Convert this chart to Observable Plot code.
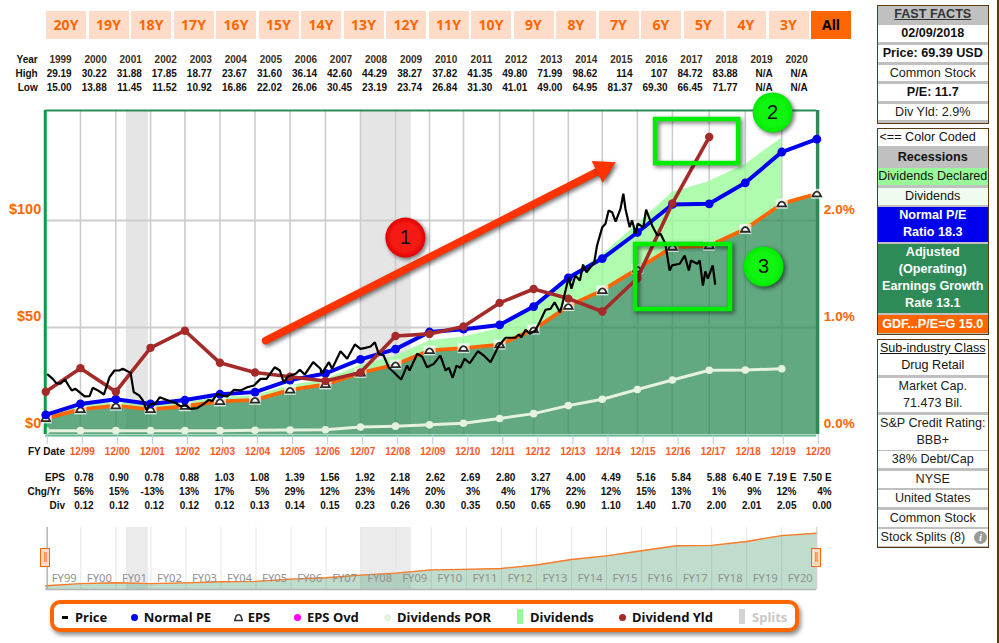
<!DOCTYPE html>
<html><head><meta charset="utf-8">
<script src="https://cdn.jsdelivr.net/npm/d3@7"></script>
<script src="https://cdn.jsdelivr.net/npm/@observablehq/plot@0.6"></script>
<style>
html,body{margin:0;padding:0;background:#fff;overflow:hidden;font-family:"Liberation Sans",Arial,sans-serif}
#page{position:relative;width:999px;height:643px;overflow:hidden}
#page>svg{position:absolute;left:0;background:transparent}
.abs{position:absolute;white-space:nowrap}
.btn{position:absolute;top:11px;width:40px;height:28px;line-height:27px;text-align:center;background:#ffdcc9;color:#ff6600;font:bold 14px/27px "Noto Sans",sans-serif}
.btn.on{background:#ff6600;color:#000}
.cell{position:absolute;font:bold 10px/12px "Liberation Sans",Arial,sans-serif;text-align:right;color:#111;width:50px}
.box{position:absolute;left:876.5px;width:110.5px;background:#c0c0c0;border:1.5px solid #5a3a10;box-sizing:content-box}
.row{position:absolute;left:0;right:0;text-align:center;font:12.6px/17px "Liberation Sans",Arial,sans-serif;color:#222;background:#fff;white-space:nowrap}
.row.b{font-weight:bold;font-size:12.6px}
#legend{position:absolute;left:50px;top:600px;width:741px;height:24px;border:4px solid #ff6600;border-radius:10px;background:#fff;box-shadow:2px 3px 4px rgba(0,0,0,.45)}
.lg{position:absolute;top:617px;transform:translateY(-50%);font:bold 13px/16px "Noto Sans",sans-serif;color:#111;white-space:nowrap}
.ldot{position:absolute;width:7px;height:7px;border-radius:50%;top:613.5px}
.handle{position:absolute;top:548px;width:8px;height:17px;background:#fddcc6;border:1.5px solid #ff6600;text-align:center;font:10px/16px "Liberation Sans";color:#ff6600;letter-spacing:-1px}
</style></head><body><div id="page"></div>
<script>
// ---- axis categories (tick index 0 = FY98)
const fyDates=["12/98","12/99","12/00","12/01","12/02","12/03","12/04","12/05","12/06","12/07","12/08","12/09","12/10","12/11","12/12","12/13","12/14","12/15","12/16","12/17","12/18","12/19","12/20"];
const fyShort=["FY99","FY00","FY01","FY02","FY03","FY04","FY05","FY06","FY07","FY08","FY09","FY10","FY11","FY12","FY13","FY14","FY15","FY16","FY17","FY18","FY19","FY20"];
const rangeButtons=["20Y","19Y","18Y","17Y","16Y","15Y","14Y","13Y","12Y","11Y","10Y","9Y","8Y","7Y","6Y","5Y","4Y","3Y","All"];
// ---- fiscal period ends on the chart's time axis (slightly irregular against the ticks)
const fyTime=[0,.99,2,2.99,3.97,4.97,5.97,6.97,7.98,8.98,9.98,10.95,11.92,12.95,13.92,14.91,15.88,16.88,17.88,18.93,19.96,21,22];
// ---- tables
const years=["1999","2000","2001","2002","2003","2004","2005","2006","2007","2008","2009","2010","2011","2012","2013","2014","2015","2016","2017","2018","2019","2020"];
const highs=["29.19","30.22","31.88","17.85","18.77","23.67","31.60","36.14","42.60","44.29","38.27","37.82","41.35","49.80","71.99","98.62","114","107","84.72","83.88","N/A","N/A"];
const lows=["15.00","13.88","11.45","11.52","10.92","16.86","22.02","26.06","30.45","23.19","23.74","26.84","31.30","41.01","49.00","64.95","81.37","69.30","66.45","71.77","N/A","N/A"];
const epsText=["0.78","0.90","0.78","0.88","1.03","1.08","1.39","1.56","1.92","2.18","2.62","2.69","2.80","3.27","4.00","4.49","5.16","5.84","5.88","6.40 E","7.19 E","7.50 E"];
const chgText=["56%","15%","-13%","13%","17%","5%","29%","12%","23%","14%","20%","3%","4%","17%","22%","12%","15%","13%","1%","9%","12%","4%"];
const divText=["0.12","0.12","0.12","0.12","0.12","0.13","0.14","0.15","0.23","0.26","0.30","0.35","0.50","0.65","0.90","1.10","1.40","1.70","2.00","2.01","2.05","0.00"];
// ---- chart series, in chart dollars
const earningsLine=[7.5,11.7,13.5,11.7,13.2,15.45,16.2,20.85,23.4,28.8,32.7,39.3,40.35,42,49.05,60,67.35,77.4,87.6,88.2,96,107.85,112.5];
const normalPE=[9.2,14.3,16.5,14.3,16.1,18.8,19.8,25.4,28.5,35.1,39.9,47.9,49.2,51.2,59.8,73.2,82.2,94.4,107.5,107.8,117.6,132,138];
const dividendsPOR=[1.8,1.8,1.8,1.8,1.8,1.8,1.95,2.1,2.25,3.45,3.9,4.5,5.25,7.5,9.75,13.5,16.5,21,25.5,30,30.15,30.75];
const dividendsTop=[9.3,13.5,15.3,13.5,15,17.25,18.15,22.95,25.65,32.25,36.6,43.8,45.6,49.5,58.8,73.5,83.85,98.4,113.1,118.2,126.15,138.6];
const dividendYield=[0.40,0.62,0.40,0.81,0.97,0.67,0.58,0.54,0.50,0.58,0.92,0.94,1.01,1.23,1.36,1.27,1.15,1.46,2.16,2.78];
const priceX=[.06,.2,.3,.42,.55,.65,.74,.84,.96,1.11,1.25,1.34,1.49,1.66,1.82,1.96,2.1,2.2,2.42,2.51,2.67,2.77,2.87,2.99,3.12,3.25,3.44,3.62,3.7,3.84,3.99,4.13,4.32,4.51,4.65,4.75,4.89,5.03,5.18,5.37,5.56,5.75,5.94,6.13,6.3,6.53,6.68,6.79,6.91,7.13,7.25,7.39,7.63,7.84,7.87,8.08,8.17,8.41,8.6,8.82,8.98,9.12,9.27,9.39,9.5,9.64,9.79,9.93,10.14,10.31,10.38,10.6,10.74,10.88,11.07,11.26,11.41,11.5,11.61,11.72,11.83,11.95,12.1,12.33,12.5,12.69,12.93,13.12,13.4,13.5,13.57,13.69,13.81,13.97,14.07,14.26,14.4,14.52,14.67,14.73,14.92,15,15.11,15.24,15.33,15.43,15.65,15.73,15.88,15.97,16.06,16.16,16.26,16.4,16.48,16.54,16.66,16.73,16.83,16.89,17.05,17.13,17.3,17.45,17.54,17.68,17.8,17.87,18.09,18.23,18.35,18.41,18.59,18.66,18.75,18.82,18.89,19.03,19.1];
const priceY=[28,26,24,23.7,25.7,22.9,20.6,21.4,19.8,17.8,17.9,21.8,20.6,18.7,26.8,29.9,29.9,30.7,28.8,19.8,18.2,15.9,11.5,14.3,14.3,17.4,16.2,15.1,14.8,13.2,13.6,12,12.3,14.3,16.2,15.6,19,18.2,17.8,20.9,20.6,22.1,22.9,26,26,31.4,29.9,24.4,27.1,28.4,30.2,28,33.8,30.7,28.4,33.8,30.7,38.9,35.4,42.1,40,40.5,41.1,43.1,37.7,36.9,31.2,29.1,25.7,32.2,29.9,37.7,36.4,31.4,33,36.9,29.9,31.2,26.5,32.2,31.2,35.4,33.3,38.9,36.9,33.8,41.6,45.2,45.2,46.7,45.5,48.9,47.1,48.6,51.7,58.3,58.7,61.8,57.1,60.3,73.5,68.1,74.3,72,79.4,75.8,80.5,88.3,96.9,98.5,104.7,103.9,99.5,105.5,112.5,105.5,96.9,100,93.8,98.5,96.9,105.1,97.7,93,93.8,89.1,76.6,79,79.8,83.6,76.6,81.3,79.8,81.3,69.6,76.2,72.8,79,70.4];
const recessions=[[2.30,2.93],[8.98,10.43]];
// ---- annotations, in chart coordinates
const arrowLine=[[6.27,43.9],[15.91,124.2]];
const callouts=[{x:10.26,y:92,t:"1",c:"url(#gRed)"},{x:20.74,y:150.5,t:"2",c:"url(#gGreen)"},{x:20.48,y:78.5,t:"3",c:"url(#gGreen)"}];
const boxes=[{x1:17.40,x2:19.77,y1:126.6,y2:147.2},{x1:16.83,x2:19.54,y1:58.4,y2:88.8}];

const rows=earningsLine.map((v,i)=>({i,t:fyTime[i],earn:v,pe:normalPE[i],por:dividendsPOR[i],top:dividendsTop[i],yld:dividendYield[i]}));
const price=priceX.map((x,i)=>({x,y:priceY[i]}));
const withDiv=rows.filter(d=>d.top!=null), withYld=rows.filter(d=>d.yld!=null);
const page=document.getElementById("page");
const shadow="drop-shadow(2px 2px 2px rgba(0,0,0,.55))";
const orange="#ff6600", grid="#cdcdcd";
const dome={draw(c){c.moveTo(-4.3,2.7);c.lineTo(4.3,2.7);c.lineTo(2.7,-.5);c.quadraticCurveTo(0,-3.6,-2.7,-.5);c.closePath();}};
const halo={draw(c){c.rect(-6,-5,12,10);}};

function gradients(){
  const s=d3.create("svg:g");const defs=s.append("defs");
  [["gRed","#f51a14","#e00000"],["gGreen","#10f510","#00e800"]].forEach(([id,a,b])=>{
    const g=defs.append("radialGradient").attr("id",id);
    g.append("stop").attr("offset","70%").attr("stop-color",a);
    g.append("stop").attr("offset","100%").attr("stop-color",b);
  });
  return s.node();
}

const main=Plot.plot({
  width:999,height:643,marginLeft:45.25,marginRight:182.7,marginTop:110,marginBottom:209,
  x:{domain:[0,22]},y:{domain:[0,151.4]},
  style:{fontFamily:"'Liberation Sans',Arial,sans-serif",background:"transparent",overflow:"visible"},
  marks:[
    gradients,
    Plot.rectX(recessions,{x1:d=>d[0],x2:d=>d[1],y1:0,y2:151.4,fill:"#e5e5e5"}),
    Plot.ruleX(fyTime.slice(1,22),{stroke:grid,strokeWidth:1.6}),
    Plot.ruleY([50,100],{stroke:grid,strokeWidth:1.8}),
    Plot.areaY(withDiv,{x:"t",y1:"earn",y2:"top",fill:"#98fb98",fillOpacity:.78}),
    Plot.areaY(rows,{x:"t",y1:0,y2:"earn",fill:"#2e8b57",fillOpacity:.75}),
    Plot.line(withDiv,{x:"t",y:"por",stroke:"#e6f2e0",strokeWidth:3}),
    Plot.dot(withDiv,{x:"t",y:"por",fill:"#e6f2e0",r:3.8}),
    Plot.ruleY([0],{stroke:"#5fb38a",strokeWidth:2.2,dy:1}),
    Plot.ruleY([151.4],{stroke:"#2e8b57",strokeWidth:2}),
    Plot.ruleX([0],{stroke:"#0f9a45",strokeWidth:3,dx:-0.5}),
    Plot.ruleX([22],{stroke:"#2e8b57",strokeWidth:3.4,dx:0.8}),
    Plot.line(rows,{x:"t",y:"earn",stroke:orange,strokeWidth:3.8}),
    Plot.dot(rows,{x:"t",y:"earn",symbol:halo,r:5,fill:"#fff",fillOpacity:.72}),
    Plot.dot(rows,{x:"t",y:"earn",symbol:dome,r:4,fill:"#fff",stroke:"#2a2a2a",strokeWidth:1.8}),
    Plot.line(rows,{x:"t",y:"pe",stroke:"#0000ee",strokeWidth:4}),
    Plot.dot(rows,{x:"t",y:"pe",fill:"#0000ee",r:4.4}),
    Plot.line(withYld,{x:"t",y:d=>d.yld*50,stroke:"#a52a2a",strokeWidth:3.6}),
    Plot.dot(withYld,{x:"t",y:d=>d.yld*50,fill:"#a52a2a",r:4.2}),
    Plot.line(price,{x:"x",y:"y",stroke:"#000",strokeWidth:2.2,strokeLinejoin:"miter"}),
    Plot.axisX({ticks:d3.range(0,23),tickSize:10,tickPadding:3,stroke:"#bcc9da",fill:"#ff5a1f",fontWeight:"bold",fontSize:10,dx:1.5,tickFormat:i=>i===0?"":fyDates[i]}),
    Plot.axisY({anchor:"left",ticks:[0,50,100],tickSize:0,tickPadding:4.5,dy:-11,fill:orange,fontWeight:"bold",fontSize:14.5,tickFormat:v=>"$"+v,label:null}),
    Plot.axisY({anchor:"right",ticks:[0,50,100],tickSize:0,tickPadding:7,dy:-11,fill:orange,fontWeight:"bold",fontSize:13.6,tickFormat:v=>(v/50).toFixed(1)+"%",label:null}),
    Plot.rect(boxes,{x1:"x1",x2:"x2",y1:"y1",y2:"y2",fill:"none",stroke:"#00ee00",strokeWidth:4.5,imageFilter:shadow}),
    Plot.line(arrowLine,{x:d=>d[0],y:d=>d[1],stroke:"#ff3300",strokeWidth:7.5,strokeLinecap:"round",imageFilter:shadow}),
    Plot.dot([arrowLine[1]],{x:d=>d[0],y:d=>d[1],symbol:"triangle",r:9,fill:"#ff3300",rotate:63,imageFilter:shadow}),
    Plot.dot(callouts,{x:"x",y:"y",r:20,fill:"c",imageFilter:shadow}),
    Plot.text(callouts,{x:"x",y:"y",text:"t",fontSize:20,fill:"#111"})
  ]
});
main.style.top="0";
page.appendChild(main);

// navigator
const nav=Plot.plot({
  width:999,height:80,marginLeft:45.25,marginRight:182.7,marginTop:7,marginBottom:11,
  x:{domain:[0,22],axis:null},y:{domain:[0,124],axis:null},
  style:{fontFamily:"'Noto Sans',sans-serif",background:"transparent"},
  marks:[
    Plot.rectX(recessions,{x1:d=>d[0],x2:d=>d[1],y1:0,y2:124,fill:"#ebebeb"}),
    Plot.ruleX(d3.range(1,22),{stroke:"#e6e6e6"}),
    Plot.areaY(rows,{x:"i",y1:0,y2:"earn",fill:"#2e8b57",fillOpacity:.3}),
    Plot.line(rows,{x:"i",y:"earn",stroke:"#ff7a26",strokeWidth:1.4}),
    Plot.ruleX([0],{stroke:"#a9a9a9",strokeWidth:1.3,dx:1.4}),
    Plot.ruleX([22],{stroke:"#c8c8c8",strokeWidth:1}),
    Plot.ruleY([0],{stroke:"#b3b3b3",strokeWidth:1.5}),
    Plot.text(fyShort,{x:(d,i)=>i+.5,y:22,dx:1,text:d=>d,fill:"#919191",fontSize:11.2})
  ]
});
nav.style.top="520px";
page.appendChild(nav);

// html pieces
function add(cls,css,html){const e=document.createElement("div");e.className=cls;e.style.cssText=css;e.innerHTML=html;page.appendChild(e);return e}
rangeButtons.forEach((t,i)=>add("btn"+(t==="All"?" on":""),`left:${46+i*42.5}px`,t));
function tableRow(label,labelRight,arr,top,x0,step,color){
  add("cell",`left:${labelRight-50}px;top:${top-6}px;color:#111`,label);
  arr.forEach((t,i)=>add("cell",`left:${x0+i*step-50}px;top:${top-6}px;color:${color||"#111"}`,t));
}
tableRow("Year",37.7,years,59.5,71.7,35.05,"#3a2f20");
tableRow("High",37.7,highs,73.5,71.7,35.05);
tableRow("Low",37.7,lows,87.5,71.7,35.05);
add("cell","left:15px;top:445.7px","FY Date");
tableRow("EPS",65,epsText,477.7,93.7,35.14);
tableRow("Chg/Yr",60.3,chgText,491.7,93.7,35.14);
tableRow("Div",65,divText,505.7,93.7,35.14);

add("handle","left:40px","||");
add("handle","left:811px","||");

// legend
add("", "", "").id="legend";
const lgText=[["Price",75],["Normal PE",143.7],["EPS",247.7],["EPS Ovd",307],["Dividends POR",397],["Dividends",530],["Dividend Yld",632]];
lgText.forEach(([t,x])=>add("lg",`left:${x}px`,t));
add("lg","left:752px;color:#c9c9c9","Splits");
add("abs","left:62px;top:615.5px;width:6px;height:3px;background:#000","");
[[134,"#0000ee"],[297,"#ff00ff"],[387,"#e6f2e0"],[622,"#a52a2a"]].forEach(([x,c])=>add("ldot",`left:${x-3.5}px;background:${c}`,""));
add("abs","left:233.5px;top:613px;width:9px;height:9px;line-height:0",'<svg width="9" height="9" style="display:block"><path d="M.6 7.6 L8.4 7.6 L6.6 2.5 Q4.5 .8 2.4 2.5 Z" fill="#fff" stroke="#333" stroke-width="1.5"/></svg>');
add("abs","left:517px;top:608.5px;width:6px;height:15px;background:#98fb98","");
add("abs","left:739px;top:608.5px;width:6px;height:15px;background:#d3d3d3","");

// side panels
function panel(top,height,items){
  const box=add("box",`top:${top}px;height:${height}px`,"");
  items.forEach(it=>{const r=document.createElement("div");r.className="row"+(it.b?" b":"");
    r.style.cssText=`top:${it.t}px;height:${it.h}px;${it.s||""}`;r.innerHTML=it.x;box.appendChild(r)});
}
panel(5,116.5,[
 {t:0,h:16.6,x:"<u>FAST FACTS</u>",b:1,s:"background:#c0c0c0;color:#333"},
 {t:19,h:16.6,x:"02/09/2018",b:1,s:"color:#111"},
 {t:39,h:16.6,x:"Price: 69.39 USD",b:1,s:"color:#111"},
 {t:58.5,h:16.6,x:"Common Stock"},
 {t:78,h:16.6,x:"P/E: 11.7",b:1,s:"color:#111"},
 {t:97.5,h:16.6,x:"Div Yld: 2.9%"}
]);
panel(128,204.5,[
 {t:0,h:17,x:"&lt;== Color Coded",s:"text-align:left;padding-left:2px;color:#111"},
 {t:20,h:17,x:"Recessions",b:1,s:"background:#c0c0c0;color:#111"},
 {t:38.5,h:17.5,x:"Dividends Declared",s:"background:#98fb98;color:#111"},
 {t:58.5,h:17,x:"Dividends",s:"background:#eefbee;color:#111"},
 {t:78,h:35,x:"Normal P/E<br>Ratio 18.3",b:1,s:"background:#0000ee;color:#fff"},
 {t:115,h:69,x:"Adjusted<br>(Operating)<br>Earnings Growth<br>Rate 13.1",b:1,s:"background:#2e8b57;color:#fff"},
 {t:186,h:18,x:"GDF...P/E=G 15.0",b:1,s:"background:#ff6600;color:#fff;line-height:18px"}
]);
panel(339,206.5,[
 {t:0,h:35,x:"<u>Sub-industry Class</u><br>Drug Retail",s:"color:#111"},
 {t:38,h:34,x:"Market Cap.<br>71.473 Bil."},
 {t:74.5,h:35,x:"S&amp;P Credit Rating:<br>BBB+"},
 {t:111,h:17,x:"38% Debt/Cap"},
 {t:130.5,h:17,x:"NYSE"},
 {t:150,h:17,x:"United States"},
 {t:169.5,h:17,x:"Common Stock"},
 {t:188.5,h:17,x:'<span style="position:absolute;left:3px">Stock Splits (8)</span><span style="position:absolute;right:1px;top:2px;width:13px;height:13px;border-radius:50%;background:#9a9a9a;color:#fff;font:bold italic 11px/13px \'Liberation Serif\',serif">i</span>'}
]);
add("abs","left:997px;top:0;width:2px;height:643px;background:#5a3a10","");
</script></body></html>
